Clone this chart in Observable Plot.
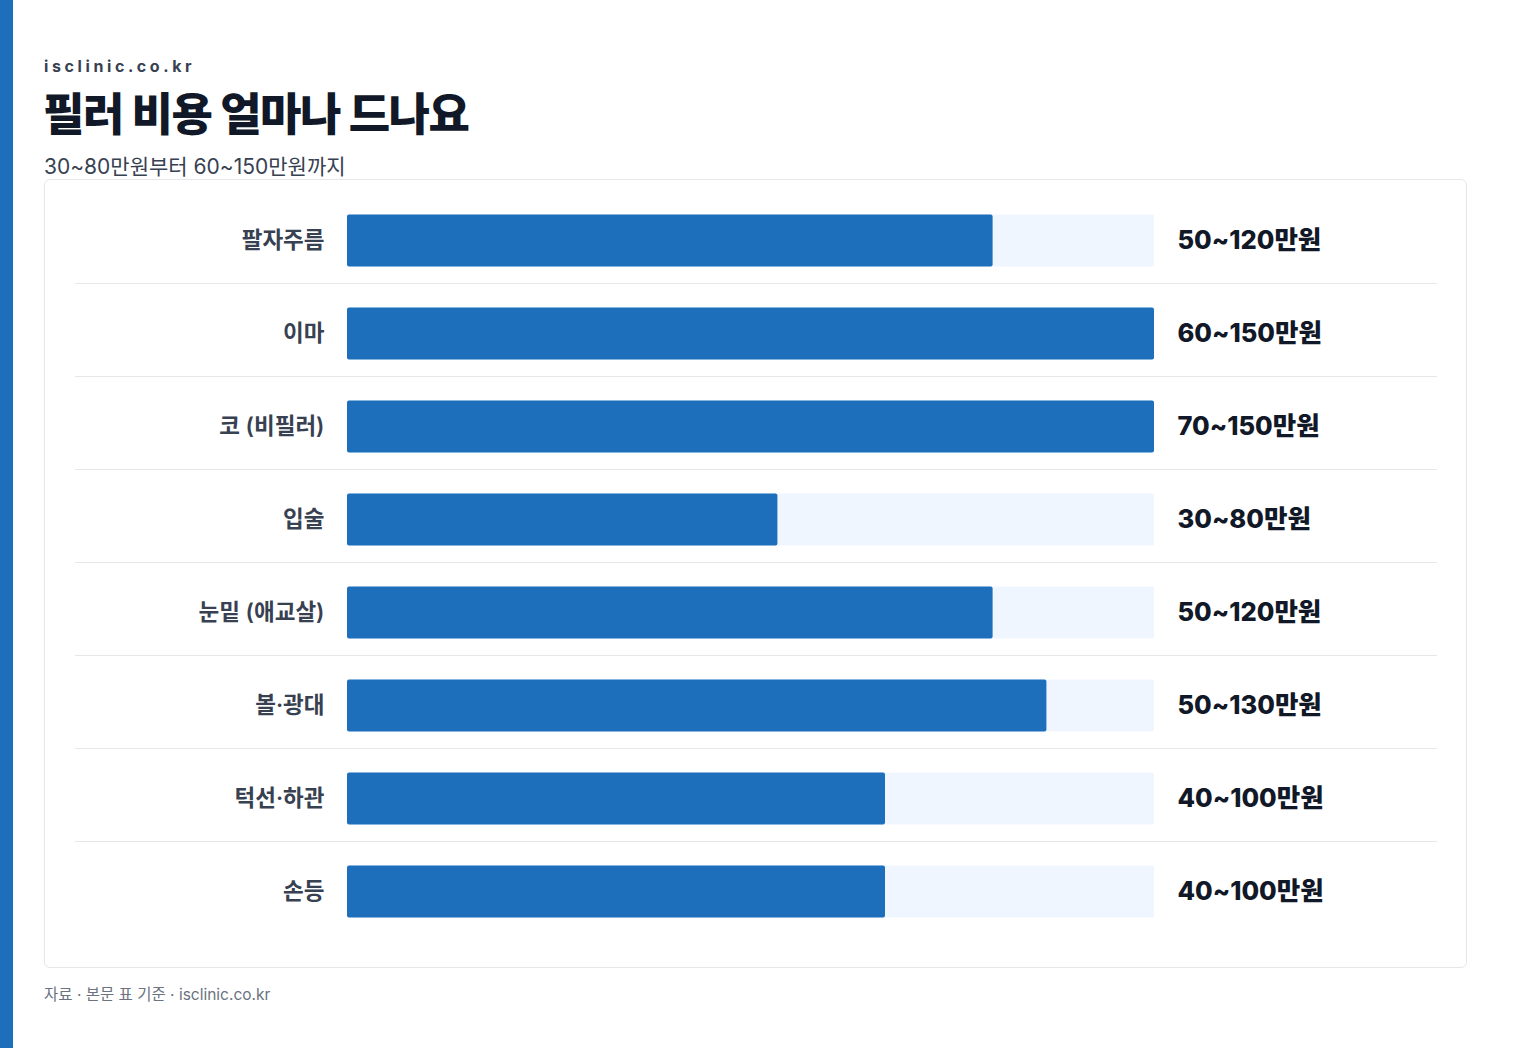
<!DOCTYPE html>
<html>
<head>
<meta charset="utf-8">
<script src="https://cdn.jsdelivr.net/npm/d3@7"></script>
<script src="https://cdn.jsdelivr.net/npm/@observablehq/plot@0.6"></script>
<style>
  html, body { margin: 0; padding: 0; background: #fff; }
  body { width: 1536px; height: 1048px; position: relative; overflow: hidden;
         font-family: Inter, "Noto Sans CJK KR", "Noto Sans", sans-serif; }
  .stripe { position: absolute; left: 0; top: 0; width: 13px; height: 1048px; background: #1d6fbb; }
  .brand { position: absolute; left: 44px; top: 56px; font-size: 16px; font-weight: 700;
           letter-spacing: 3.6px; color: #374151; }
  .title { position: absolute; left: 43px; top: 79px; font-size: 45px; font-weight: 800;
           color: #111827; letter-spacing: -1.5px; font-family: "Noto Sans CJK KR", sans-serif; }
  .subtitle { position: absolute; left: 44px; top: 150px; font-size: 21px; color: #374151;
              letter-spacing: 0px; }
  .card { position: absolute; left: 44px; top: 179px; width: 1421px; height: 787px;
          border: 1px solid #e5e7eb; border-radius: 6px; background: #fff; }
  .card svg { display: block; }
  .footer { position: absolute; left: 44px; top: 982px; font-size: 15.5px; color: #6b7280; }
</style>
</head>
<body>
<div class="stripe"></div>
<div class="brand">isclinic.co.kr</div>
<div class="title">필러 비용 얼마나 드나요</div>
<div class="subtitle">30~80만원부터 60~150만원까지</div>
<div class="card" id="card"></div>
<div class="footer">자료 · 본문 표 기준 · isclinic.co.kr</div>
<script>
const categories = ["팔자주름", "이마", "코 (비필러)", "입술", "눈밑 (애교살)", "볼·광대", "턱선·하관", "손등"];
const minValues = [50, 60, 70, 30, 50, 50, 40, 40];
const maxValues = [120, 150, 150, 80, 120, 130, 100, 100];
const scaleMax = 150;

const rows = categories.map((c, i) => ({
  cat: c, min: minValues[i], max: maxValues[i], full: scaleMax,
  label: `${minValues[i]}~${maxValues[i]}만원`
}));

const chart = Plot.plot({
  width: 1421,
  height: 787,
  marginLeft: 30,
  marginRight: 29,
  marginTop: 0,
  marginBottom: 0,
  style: { fontFamily: 'Inter, "Noto Sans CJK KR", sans-serif', background: "transparent" },
  x: { domain: [0, scaleMax], range: [302, 1109], axis: null },
  y: { domain: categories, range: [13.5, 757.5], padding: 0, axis: null },
  marks: [
    Plot.ruleY(categories.slice(0, -1), { y: d => d, dy: 42.5, stroke: "#e5e7eb", strokeWidth: 1 }),
    Plot.barX(rows, { y: "cat", x1: 0, x2: "full", fill: "#eff6ff", insetTop: 20.5, insetBottom: 20.5, rx: 2 }),
    Plot.barX(rows, { y: "cat", x1: 0, x2: "max", fill: "#1d6fbb", insetTop: 20.5, insetBottom: 20.5, rx: 2 }),
    Plot.text(rows, { y: "cat", x: 0, text: "cat", dx: -23, textAnchor: "end", fontSize: 22.5,
                      fontWeight: 600, fill: "#374151" }),
    Plot.text(rows, { y: "cat", x: "full", text: "label", dx: 23, textAnchor: "start", fontSize: 25.5,
                      fontWeight: 800, fill: "#111827" })
  ]
});
document.getElementById("card").appendChild(chart);
</script>
</body>
</html>
